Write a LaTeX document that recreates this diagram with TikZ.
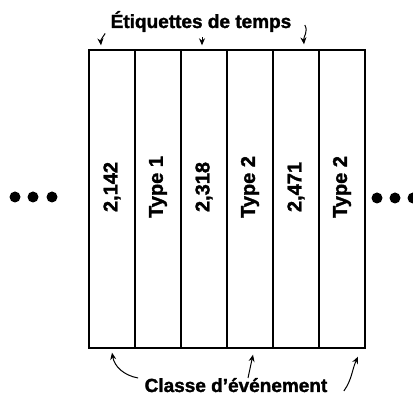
\documentclass[tikz,border=0pt]{standalone}
\usepackage{fontspec}
\setmainfont{Liberation Sans}[BoldFeatures={FakeBold=1.6}]
\usetikzlibrary{arrows.meta}
\begin{document}
\begin{tikzpicture}[>={Stealth[length=7pt,width=6pt]}, x=1pt, y=1pt,
  col/.style={draw, line width=1.4pt, minimum width=46pt, minimum height=298pt, inner sep=0pt},
  lab/.style={rotate=90, font=\fontsize{20}{20}\selectfont\bfseries},
  caption/.style={anchor=base, font=\fontsize{19}{19}\selectfont\bfseries},
  tag/.style={->, line width=1pt}]
\useasboundingbox (0,0) rectangle (413,395);
% the six columns of the record
\foreach \i/\t in {1/{2,142},2/{Type 1},3/{2,318},4/{Type 2},5/{2,471},6/{Type 2}}{
  \node[col] (c\i) at (66+46*\i,196) {};
  \node[lab] (l\i) at ([yshift=12pt]c\i.center) {\t};
}
% dots on both sides
\foreach \x in {15,33,52}
  \fill (\x,198) circle (5.5);
\foreach \x in {377,395,413}
  \fill (\x,197) circle (5.5);
\node[caption] (tags) at (201,367) {Étiquettes de temps};
\node[caption] (class) at (236,3) {Classe d'événement};
%\draw[->, thick] (tags.south) -- (c3.north);
\draw[tag] ([xshift=-2pt,yshift=2pt]tags.south west) to[out=-125,in=95] ([xshift=-11pt,yshift=4pt]c1.north);
\draw[tag] ([xshift=1pt,yshift=-2pt]tags.south) -- ([xshift=-2pt,yshift=4pt]c3.north);
\draw[tag] ([xshift=10pt,yshift=3pt]tags.base east) to[out=-60,in=95] ([xshift=8pt,yshift=5pt]c5.north);
\draw[tag] ([xshift=-3pt,yshift=14pt]class.base west) to[out=170,in=-80] ([yshift=-4pt]c1.south);
\draw[tag] ([xshift=12pt,yshift=14pt]class.base) -- ([xshift=3pt,yshift=-6pt]c4.south);
\draw[tag] ([xshift=13pt,yshift=1pt]class.base east) to[out=55,in=-115] ([xshift=16pt,yshift=-8pt]c6.south);
\end{tikzpicture}
\end{document}
